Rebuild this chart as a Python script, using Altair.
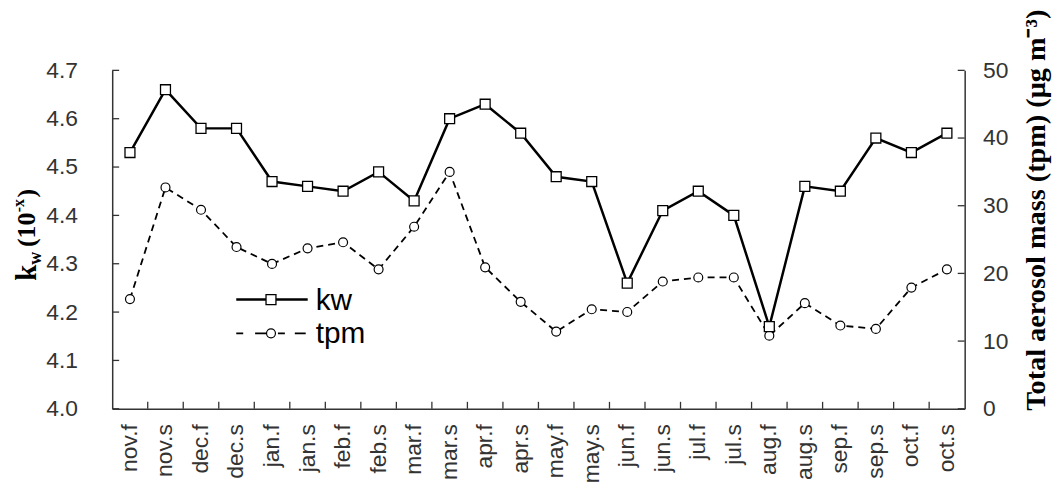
import altair as alt
import pandas as pd

periods = ["nov.f", "nov.s", "dec.f", "dec.s", "jan.f", "jan.s", "feb.f", "feb.s",
           "mar.f", "mar.s", "apr.f", "apr.s", "may.f", "may.s", "jun.f", "jun.s",
           "jul.f", "jul.s", "aug.f", "aug.s", "sep.f", "sep.s", "oct.f", "oct.s"]
kw_values = [4.53, 4.66, 4.58, 4.58, 4.47, 4.46, 4.45, 4.49, 4.43, 4.60, 4.63, 4.57,
             4.48, 4.47, 4.26, 4.41, 4.45, 4.40, 4.17, 4.46, 4.45, 4.56, 4.53, 4.57]
tpm_values = [16.2, 32.7, 29.4, 23.9, 21.4, 23.7, 24.6, 20.6, 26.9, 35.0, 20.9, 15.8,
              11.4, 14.7, 14.3, 18.8, 19.4, 19.4, 10.8, 15.6, 12.3, 11.8, 17.9, 20.6]
kw_ticks = [4.0, 4.1, 4.2, 4.3, 4.4, 4.5, 4.6, 4.7]
tpm_ticks = [0, 10, 20, 30, 40, 50]
legend_labels = ["kw", "tpm"]
right_title = ["Total aerosol mass (tpm) (μg m⁻³)"]

W, H = 859, 341

df = pd.DataFrame({"period": periods, "kw": kw_values, "tpm": tpm_values})
ticks_l = pd.DataFrame({"kw": kw_ticks})
ticks_r = pd.DataFrame({"tpm": tpm_ticks})
ticks_x = pd.DataFrame({"period": periods[1:]})
leg_df = pd.DataFrame({"label": legend_labels})

xscale = alt.Scale(type="band", domain=periods, paddingInner=0, paddingOuter=0)
yl = alt.Scale(domain=[4.0, 4.7], nice=False, zero=False)
yr = alt.Scale(domain=[0, 50], nice=False, zero=True)

ax_x = alt.Axis(labelAngle=-90, ticks=False, labelFontSize=23, labelPadding=15,
                grid=False, title=None)
ax_l = alt.Axis(orient="left", values=kw_ticks, format=".1f", ticks=False,
                grid=False, title=None, labelFontSize=23, labelPadding=35)
ax_r = alt.Axis(orient="right", values=tpm_ticks, ticks=False, grid=False,
                labelFontSize=23, labelPadding=18, title=None)

x_c = alt.X("period:N", scale=xscale, bandPosition=0.5, axis=ax_x, title=None)
y_kw = alt.Y("kw:Q", scale=yl, axis=ax_l, title=None)
y_tpm = alt.Y("tpm:Q", scale=yr, axis=ax_r, title=None)

# ---- kw (left axis)
kw_line = alt.Chart(df).mark_line(color="black", strokeWidth=2.5).encode(x=x_c, y=y_kw)
kw_pts = alt.Chart(df).mark_point(shape="square", size=100, filled=True, fill="white",
                                  stroke="black", strokeWidth=1.3, opacity=1).encode(
    x=x_c, y=y_kw)
left_ticks = alt.Chart(ticks_l).mark_rule(color="#333", strokeWidth=1.3).encode(
    y=y_kw, x=alt.value(0), x2=alt.value(7))
x_ticks = alt.Chart(ticks_x).mark_rule(color="#333", strokeWidth=1.3).encode(
    x=alt.X("period:N", scale=xscale, bandPosition=0, axis=ax_x, title=None),
    y=alt.value(H - 7), y2=alt.value(H))

# ---- tpm (right axis)
tpm_line = alt.Chart(df).mark_line(color="black", strokeWidth=1.8,
                                   strokeDash=[7, 5]).encode(x=x_c, y=y_tpm)
tpm_pts = alt.Chart(df).mark_point(shape="circle", size=81, filled=True, fill="white",
                                   stroke="black", strokeWidth=1.2, opacity=1).encode(
    x=x_c, y=y_tpm)
right_ticks = alt.Chart(ticks_r).mark_rule(color="#333", strokeWidth=1.3).encode(
    y=y_tpm, x=alt.value(W - 7), x2=alt.value(W))

left = alt.layer(kw_line, kw_pts, left_ticks, x_ticks)
right = alt.layer(tpm_line, tpm_pts, right_ticks)

# ---- legend (inside the plot)
kw_leg = leg_df[leg_df.label == "kw"]
tpm_leg = leg_df[leg_df.label == "tpm"]
leg_kw_line = alt.Chart(kw_leg).mark_rule(color="black", strokeWidth=2.5).encode(
    x=alt.value(125), x2=alt.value(197), y=alt.value(231))
leg_kw_pt = alt.Chart(kw_leg).mark_point(shape="square", size=100, filled=True, fill="white",
                                         stroke="black", strokeWidth=1.3, opacity=1).encode(
    x=alt.value(160), y=alt.value(231))
leg_kw_txt = alt.Chart(kw_leg).mark_text(align="left", baseline="middle", fontSize=30,
                                         font="Liberation Sans", color="black").encode(
    x=alt.value(205), y=alt.value(232), text="label:N")
leg_tpm_line = alt.Chart(tpm_leg).mark_rule(color="black", strokeWidth=1.6,
                                            strokeDash=[7, 12, 11, 12, 7, 10, 11, 4]).encode(
    x=alt.value(125), x2=alt.value(197), y=alt.value(265))
leg_tpm_pt = alt.Chart(tpm_leg).mark_point(shape="circle", size=81, filled=True, fill="white",
                                           stroke="black", strokeWidth=1.2, opacity=1).encode(
    x=alt.value(160), y=alt.value(265))
leg_tpm_txt = alt.Chart(tpm_leg).mark_text(align="left", baseline="middle", fontSize=30,
                                           font="Liberation Sans", color="black").encode(
    x=alt.value(205), y=alt.value(266), text="label:N")

# ---- left axis title k_w (10^-x), built from pieces
title_parts = pd.DataFrame({"t": ["k", "w", "(10", "-x", ")"]})
def tpart(txt, size, bx, sy):
    return alt.Chart(title_parts[title_parts.t == txt]).mark_text(
        angle=270, align="left", baseline="alphabetic", font="Liberation Serif",
        fontWeight="bold", fontSize=size, color="black").encode(
        text="t:N", x=alt.value(bx), y=alt.value(sy))

t_k = tpart("k", 29, -77, 212)
t_w = tpart("w", 18, -72, 196)
t_10 = tpart("(10", 26, -78, 178)
t_x = tpart("-x", 16, -89, 143)
t_p = tpart(")", 26, -78, 128)

# ---- right axis title
t_right = alt.Chart(pd.DataFrame({"t": right_title})).mark_text(
    angle=270, align="left", baseline="middle", font="Liberation Serif",
    fontWeight="bold", fontSize=28.5, color="black").encode(
    text="t:N", x=alt.value(W + 72), y=alt.value(343))

chart = alt.layer(
    right, left,
    leg_kw_line, leg_kw_pt, leg_kw_txt, leg_tpm_line, leg_tpm_pt, leg_tpm_txt,
    t_k, t_w, t_10, t_x, t_p, t_right,
).resolve_scale(y="independent").properties(
    width=W, height=H,
    autosize=alt.AutoSizeParams(type="none"),
    padding={"left": 105, "top": 61, "right": 89, "bottom": 78},
    background="white",
).configure_axis(
    domainColor="#333", domainWidth=1.5, labelColor="#333", labelFont="Liberation Sans",
).configure_view(stroke=None)

chart.save("out.html", embed_options={"renderer": "svg", "actions": False})
